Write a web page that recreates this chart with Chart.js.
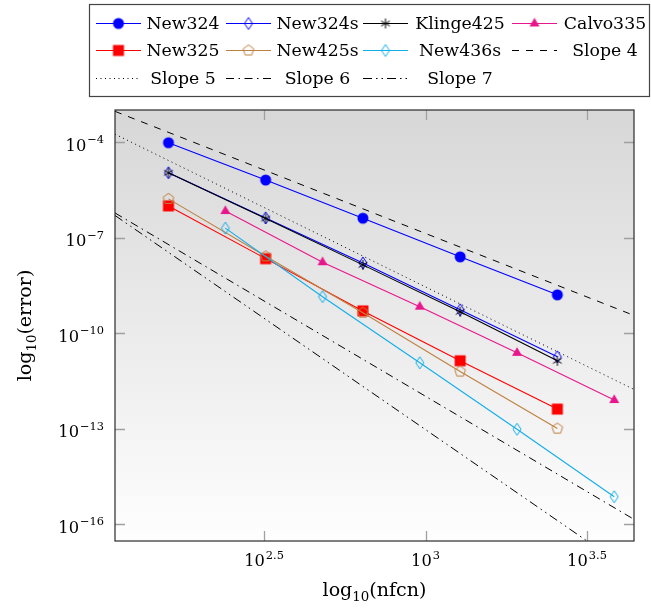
<!DOCTYPE html>
<html>
<head>
<meta charset="utf-8">
<script src="https://cdn.jsdelivr.net/npm/chart.js@4.4.1/dist/chart.umd.min.js"></script>
<style>
  html, body { margin: 0; padding: 0; background: #fff; }
  #wrap { width: 651px; height: 616px; }
</style>
</head>
<body>
<div id="wrap"><canvas id="errChart" width="651" height="616"></canvas></div>
<script>
// nfcn values (x)
const nfcnA = [160, 320, 640, 1280, 2560];
const nfcnB = [240, 480, 960, 1920, 3840];

// error values (y)
const errNew324   = [9.7e-5, 6.5e-6, 4.1e-7, 2.5e-8, 1.6e-9];
const errNew324s  = [1.1e-5, 4.2e-7, 1.6e-8, 5.4e-10, 1.8e-11];
const errKlinge425 = [1.1e-5, 4.0e-7, 1.4e-8, 4.7e-10, 1.35e-11];
const errCalvo335 = [6.9e-7, 1.7e-8, 6.8e-10, 2.4e-11, 7.9e-13];
const errNew325   = [1.0e-6, 2.2e-8, 5.0e-10, 1.35e-11, 4.1e-13];
const errNew425s  = [1.66e-6, 2.6e-8, 4.4e-10, 6.2e-12, 1.0e-13];
const errNew436s  = [2.0e-7, 1.4e-9, 1.17e-11, 9.5e-14, 7.2e-16];

// reference slope lines (end points)
const refX   = [109.3, 4421];
const slope4 = [9.4e-4, 3.6e-10];
const slope5 = [1.8e-4, 1.7e-12];
const slope6 = [6.0e-7, 1.4e-16];
const slope7 = [5.0e-7, 2.8e-18];

// axes
const xMin = 109.3, xMax = 4421;
const yMin = 2.92e-17, yMax = 1.035e-3;
const xTickVals = [316.23, 1000, 3162.28];
const xTickExp  = ['2.5', '3', '3.5'];
const yTickVals = [1e-4, 1e-7, 1e-10, 1e-13, 1e-16];
const yTickExp  = ['\u22124', '\u22127', '\u221210', '\u221213', '\u221216'];

const FONT = '"DejaVu Serif", serif';

// font size that makes `text` about `width` px wide
function fitSize(ctx, text, width) {
    ctx.font = '20px ' + FONT;
    return 20 * width / ctx.measureText(text).width;
}

function marker(kind, color) {
    const s = 18, m = 9;
    const c = document.createElement('canvas');
    c.width = s; c.height = s;
    const g = c.getContext('2d');
    g.strokeStyle = color;
    g.fillStyle = color;
    g.lineWidth = 1;
    g.beginPath();
    if (kind === 'circle') {
        g.arc(m, m, 5.5, 0, Math.PI * 2);
        g.fill();
    } else if (kind === 'square') {
        g.fillRect(m - 5.5, m - 5.5, 11, 11);
    } else if (kind === 'triangle') {
        const r = 5.8;
        g.moveTo(m, m - r);
        g.lineTo(m + r * 0.866, m + r / 2);
        g.lineTo(m - r * 0.866, m + r / 2);
        g.closePath();
        g.fill();
    } else if (kind === 'diamond') {
        g.moveTo(m, m - 6);
        g.lineTo(m + 4, m);
        g.lineTo(m, m + 6);
        g.lineTo(m - 4, m);
        g.closePath();
        g.stroke();
    } else if (kind === 'pentagon') {
        for (let k = 0; k < 5; k++) {
            const a = -Math.PI / 2 + k * 2 * Math.PI / 5;
            const px = m + 5.6 * Math.cos(a), py = m + 5.6 * Math.sin(a);
            if (k === 0) g.moveTo(px, py); else g.lineTo(px, py);
        }
        g.closePath();
        g.stroke();
    } else if (kind === 'asterisk') {
        for (let k = 0; k < 3; k++) {
            const a = Math.PI / 2 + k * Math.PI / 3;
            g.moveTo(m + 5 * Math.cos(a), m + 5 * Math.sin(a));
            g.lineTo(m - 5 * Math.cos(a), m - 5 * Math.sin(a));
        }
        g.stroke();
    }
    return c;
}

function pts(xs, ys) {
    return xs.map((x, i) => ({ x: x, y: ys[i] }));
}

function series(label, xs, ys, color, kind) {
    return {
        label: label,
        data: pts(xs, ys),
        borderColor: color,
        backgroundColor: color,
        borderWidth: 1.1,
        pointStyle: marker(kind, color),
        pointRadius: 5,
        fill: false
    };
}

function refLine(label, ys, dash) {
    return {
        label: label,
        data: pts(refX, ys),
        borderColor: '#000000',
        borderWidth: 1,
        borderDash: dash,
        pointRadius: 0,
        fill: false,
        clip: 0
    };
}

const datasets = [
    series('New324', nfcnA, errNew324, '#0000ff', 'circle'),
    series('New324s', nfcnA, errNew324s, '#0000ff', 'diamond'),
    series('Klinge425', nfcnA, errKlinge425, '#000000', 'asterisk'),
    series('Calvo335', nfcnB, errCalvo335, '#e8168c', 'triangle'),
    series('New325', nfcnA, errNew325, '#ff0000', 'square'),
    series('New425s', nfcnA, errNew425s, '#bf8040', 'pentagon'),
    series('New436s', nfcnB, errNew436s, '#12aee9', 'diamond'),
    refLine('Slope 4', slope4, [7, 7]),
    refLine('Slope 5', slope5, [1, 3.5]),
    refLine('Slope 6', slope6, [8, 4.5, 1.5, 4.5]),
    refLine('Slope 7', slope7, [9, 4, 1.5, 4, 1.5, 4])
];
// later plots on top, like pgfplots
datasets.forEach((d, i) => { d.order = datasets.length - i; });

// draws 10^exp with the exponent raised
function powerLabel(ctx, size, exp, x, y, align) {
    const sub = size * 0.7;
    ctx.font = size + 'px ' + FONT;
    const wBase = ctx.measureText('10').width;
    ctx.font = sub + 'px ' + FONT;
    const wExp = ctx.measureText(exp).width;
    const total = wBase + 1 + wExp;
    let x0 = x;
    if (align === 'right') x0 = x - total;
    if (align === 'center') x0 = x - total / 2;
    ctx.textAlign = 'left';
    ctx.textBaseline = 'alphabetic';
    ctx.font = size + 'px ' + FONT;
    ctx.fillText('10', x0, y);
    ctx.font = sub + 'px ' + FONT;
    ctx.fillText(exp, x0 + wBase + 1, y - 7.5);
}

// draws log_10(text) centred at cx
function logTitle(ctx, size, inner, cx, y) {
    const sub = size * 0.7;
    ctx.font = size + 'px ' + FONT;
    const w1 = ctx.measureText('log').width;
    const w3 = ctx.measureText('(' + inner + ')').width;
    ctx.font = sub + 'px ' + FONT;
    const w2 = ctx.measureText('10').width;
    const x0 = cx - (w1 + w2 + w3) / 2;
    ctx.textAlign = 'left';
    ctx.textBaseline = 'alphabetic';
    ctx.font = size + 'px ' + FONT;
    ctx.fillText('log', x0, y);
    ctx.font = sub + 'px ' + FONT;
    ctx.fillText('10', x0 + w1, y + 4.5);
    ctx.font = size + 'px ' + FONT;
    ctx.fillText('(' + inner + ')', x0 + w1 + w2, y);
}

const legendCols = {
    sample: [[96, 141], [226, 271], [363, 408], [512, 557]],
    text: [183, 317.5, 460, 605]
};
const legendRows = [23, 50, 78];

const pgfDecor = {
    id: 'pgfDecor',
    beforeDatasetsDraw(chart) {
        const ctx = chart.ctx, a = chart.chartArea;
        const grad = ctx.createLinearGradient(0, a.top, 0, a.bottom);
        grad.addColorStop(0, '#d7d7d7');
        grad.addColorStop(1, '#fefefe');
        ctx.save();
        ctx.fillStyle = grad;
        ctx.fillRect(a.left, a.top, a.right - a.left, a.bottom - a.top);

        // ticks inside on all four sides
        ctx.strokeStyle = '#a0a0a0';
        ctx.lineWidth = 1.3;
        ctx.beginPath();
        xTickVals.forEach(v => {
            const px = Math.round(chart.scales.x.getPixelForValue(v)) + 0.5;
            ctx.moveTo(px, a.bottom); ctx.lineTo(px, a.bottom - 10);
            ctx.moveTo(px, a.top); ctx.lineTo(px, a.top + 10);
        });
        yTickVals.forEach(v => {
            const py = Math.round(chart.scales.y.getPixelForValue(v)) + 0.5;
            ctx.moveTo(a.left, py); ctx.lineTo(a.left + 10, py);
            ctx.moveTo(a.right, py); ctx.lineTo(a.right - 10, py);
        });
        ctx.stroke();
        ctx.restore();
    },
    afterDatasetsDraw(chart) {
        const ctx = chart.ctx, a = chart.chartArea;
        ctx.save();
        ctx.strokeStyle = '#2a2a2a';
        ctx.lineWidth = 1.2;
        ctx.strokeRect(a.left, a.top, a.right - a.left, a.bottom - a.top);
        ctx.restore();
    },
    afterDraw(chart) {
        const ctx = chart.ctx, a = chart.chartArea;
        ctx.save();
        ctx.fillStyle = '#000';

        const tickSize = fitSize(ctx, '10', 20.7);
        const titleSize = fitSize(ctx, 'log(nfcn)', 87);
        const legendSize = fitSize(ctx, 'Klinge425', 89.5);

        // tick labels
        xTickVals.forEach((v, i) => {
            powerLabel(ctx, tickSize, xTickExp[i], chart.scales.x.getPixelForValue(v), a.bottom + 25, 'center');
        });
        yTickVals.forEach((v, i) => {
            powerLabel(ctx, tickSize, yTickExp[i], 104, chart.scales.y.getPixelForValue(v) + 8.7, 'right');
        });

        // axis titles
        logTitle(ctx, titleSize, 'nfcn', (a.left + a.right) / 2, 596);
        ctx.save();
        ctx.translate(31, (a.top + a.bottom) / 2);
        ctx.rotate(-Math.PI / 2);
        logTitle(ctx, titleSize, 'error', 0, 0);
        ctx.restore();

        // legend box
        ctx.fillStyle = '#ffffff';
        ctx.fillRect(89, 4, 561, 92);
        ctx.strokeStyle = '#444444';
        ctx.lineWidth = 1.2;
        ctx.strokeRect(89.5, 4.5, 560, 92);

        chart.data.datasets.forEach((d, i) => {
            const row = Math.floor(i / 4), col = i % 4;
            const y = legendRows[row];
            const [x1, x2] = legendCols.sample[col];
            ctx.save();
            ctx.strokeStyle = d.borderColor;
            ctx.lineWidth = d.borderWidth;
            ctx.setLineDash(d.borderDash || []);
            ctx.beginPath();
            ctx.moveTo(x1, y + 0.5);
            ctx.lineTo(x2, y + 0.5);
            ctx.stroke();
            ctx.restore();
            if (d.pointRadius > 0 && d.pointStyle) {
                const mk = d.pointStyle;
                ctx.drawImage(mk, (x1 + x2) / 2 - mk.width / 2, y + 0.5 - mk.height / 2);
            }
            ctx.fillStyle = '#000';
            ctx.font = legendSize + 'px ' + FONT;
            ctx.textAlign = 'center';
            ctx.textBaseline = 'alphabetic';
            ctx.fillText(d.label, legendCols.text[col], y + 6);
        });
        ctx.restore();
    }
};

new Chart(document.getElementById('errChart').getContext('2d'), {
    type: 'line',
    data: { datasets: datasets },
    options: {
        responsive: false,
        animation: false,
        devicePixelRatio: 1,
        layout: { padding: { left: 115, top: 110, right: 17, bottom: 75 } },
        scales: {
            x: { type: 'logarithmic', min: xMin, max: xMax, bounds: 'data', display: false },
            y: { type: 'logarithmic', min: yMin, max: yMax, bounds: 'data', display: false }
        },
        plugins: {
            legend: { display: false },
            tooltip: { enabled: false }
        }
    },
    plugins: [pgfDecor]
});
</script>
</body>
</html>
